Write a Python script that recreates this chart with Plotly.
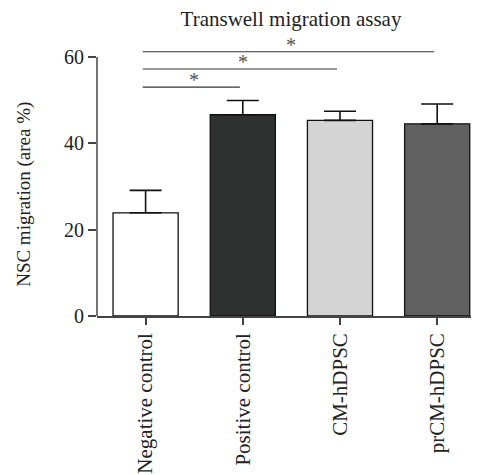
import plotly.graph_objects as go

categories = ["Negative control", "Positive control", "CM-hDPSC", "prCM-hDPSC"]
means = [23.9, 46.6, 45.3, 44.5]
errors = [5.2, 3.3, 2.1, 4.6]
bar_colors = ["#ffffff", "#2f3130", "#d4d4d4", "#5f605f"]
y_ticks = [0, 20, 40, 60]

# significance comparisons: (from index, to index, line height, label)
comparisons = [(0, 1, 53.0, "*"), (0, 2, 57.2, "*"), (0, 3, 61.2, "*")]

FONT = "Liberation Serif"
TXT = "#222222"

x_idx = list(range(len(categories)))

fig = go.Figure()
fig.add_trace(go.Bar(
    x=x_idx, y=means,
    width=0.67,
    marker=dict(color=bar_colors, line=dict(color="#111111", width=1.3)),
    error_y=dict(type="data", array=errors, arrayminus=[0] * len(errors),
                 symmetric=False, color="#111111", thickness=1.6, width=16),
    showlegend=False,
))

shapes = []
annotations = []
# y axis line drawn from 0 to 60 only
shapes.append(dict(type="line", xref="paper", yref="y", x0=0, x1=0,
                   y0=y_ticks[0], y1=y_ticks[-1],
                   line=dict(color="#444444", width=1.5)))
off = 0.03
for i, j, h, lab in comparisons:
    shapes.append(dict(type="line", xref="x", yref="y", x0=i - off, x1=j - off,
                       y0=h, y1=h, line=dict(color="#333333", width=1.2)))
    annotations.append(dict(x=(i + j) / 2, y=h, xref="x", yref="y", text=lab,
                            showarrow=False, yanchor="bottom", yshift=-6,
                            font=dict(family=FONT, size=20, color="#555555")))

annotations.append(dict(x=-0.19, y=28.2, xref="paper", yref="y",
                        text="NSC migration (area %)", textangle=-90,
                        showarrow=False, xanchor="center", yanchor="middle",
                        font=dict(family=FONT, size=19, color=TXT)))

# page body adds 8px offset; compensate
fig.update_layout(
    width=471, height=467,
    margin=dict(l=89, r=1, t=23, b=150),
    paper_bgcolor="white", plot_bgcolor="white",
    title=dict(text="Transwell migration assay", x=283 / 471, xref="container",
               y=1 - 11 / 467, yref="container", xanchor="center", yanchor="middle",
               font=dict(family=FONT, size=21, color=TXT)),
    shapes=shapes,
    annotations=annotations,
    xaxis=dict(range=[-0.5, 3.42], tickmode="array", tickvals=x_idx,
               ticktext=categories, tickangle=-90, ticks="outside", ticklen=7,
               tickcolor="#444444", tickwidth=1.5,
               showline=True, linecolor="#444444", linewidth=1.5,
               showgrid=False, zeroline=False,
               tickfont=dict(family=FONT, size=21, color=TXT)),
    yaxis=dict(range=[0, 66], tickmode="array", tickvals=y_ticks,
               ticks="outside", ticklen=8, tickcolor="#444444", tickwidth=1.5,
               showline=False, showgrid=False, zeroline=False,
               tickfont=dict(family=FONT, size=20, color=TXT)),
)

fig.write_html("out.html")
